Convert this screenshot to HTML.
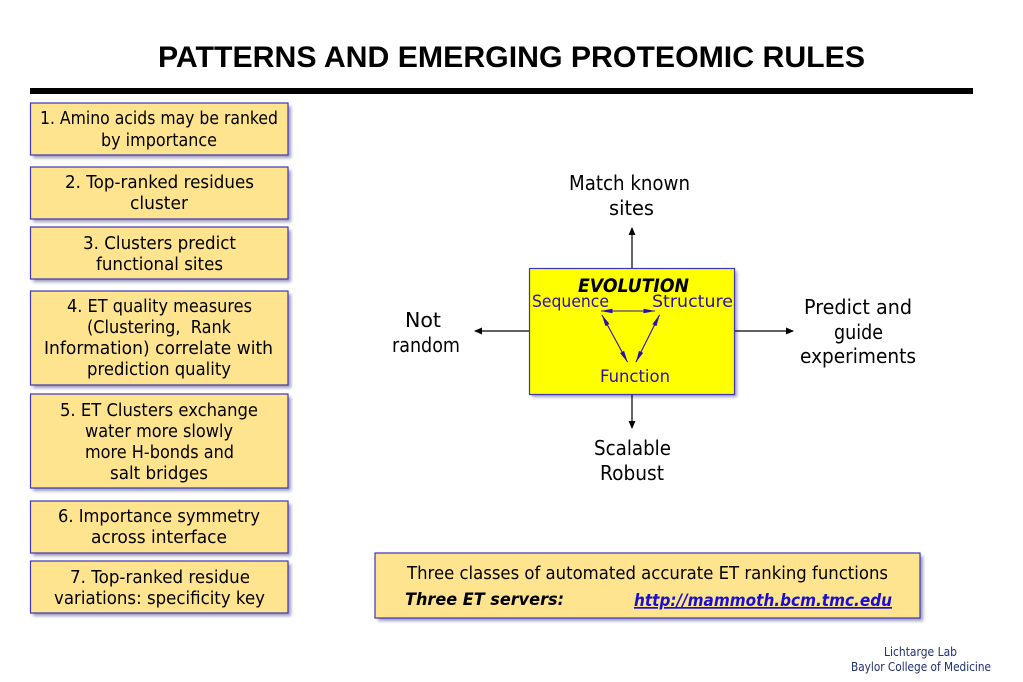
<!DOCTYPE html>
<html><head><meta charset="utf-8"><style>
html,body{margin:0;padding:0;background:#fff;width:1023px;height:682px;overflow:hidden}
svg{display:block}
text{font-family:"DejaVu Sans","Liberation Sans",sans-serif;fill:#000}
.t{font-size:18px}
.d{font-size:20px}
.b{font-size:17px;fill:#2a0fb0}
</style></head><body>
<svg width="1023" height="682" viewBox="0 0 1023 682" xmlns="http://www.w3.org/2000/svg">
<defs>
<filter id="s" x="-10%" y="-20%" width="120%" height="140%"><feGaussianBlur stdDeviation="1.5"/></filter>
<marker id="k" markerWidth="8" markerHeight="7" refX="7" refY="3.5" orient="auto-start-reverse" markerUnits="userSpaceOnUse"><path d="M0 0L8 3.5L0 7z" fill="#000"/></marker>
<marker id="v" markerWidth="12" markerHeight="5" refX="11.5" refY="2.5" orient="auto-start-reverse" markerUnits="userSpaceOnUse"><path d="M0 0.2L12 2.5L0 4.8z" fill="#2a0fb0"/></marker>
</defs>
<rect width="1023" height="682" fill="#fff"/>
<text x="158" y="67" textLength="707" lengthAdjust="spacingAndGlyphs" style="font:bold 30px 'Liberation Sans',sans-serif">PATTERNS AND EMERGING PROTEOMIC RULES</text>
<rect x="30" y="88" width="943" height="6" fill="#000"/>

<g fill="#7a7aa8" opacity=".75" filter="url(#s)">
<rect x="33" y="106" width="258" height="52"/><rect x="33" y="170" width="258" height="52"/><rect x="33" y="230" width="258" height="52"/><rect x="33" y="294" width="258" height="94"/><rect x="33" y="397" width="258" height="94"/><rect x="33" y="504" width="258" height="52"/><rect x="33" y="564" width="258" height="52"/><rect x="378" y="556" width="545" height="65"/><rect x="532" y="271" width="205" height="126"/>
</g>
<g fill="#ffe48f" stroke="#3f35b5" stroke-width="1.2">
<rect x="30.5" y="103" width="257.5" height="52"/><rect x="30.5" y="167" width="257.5" height="52"/><rect x="30.5" y="227" width="257.5" height="52"/><rect x="30.5" y="291" width="257.5" height="94"/><rect x="30.5" y="394" width="257.5" height="94"/><rect x="30.5" y="501" width="257.5" height="52"/><rect x="30.5" y="561" width="257.5" height="52"/><rect x="375" y="553" width="545" height="65"/>
</g>

<g class="t">
<text class="t" x="40" y="124" textLength="238" lengthAdjust="spacingAndGlyphs">1. Amino acids may be ranked</text>
<text class="t" x="101" y="146" textLength="116" lengthAdjust="spacingAndGlyphs">by importance</text>
<text class="t" x="65" y="188" textLength="189" lengthAdjust="spacingAndGlyphs">2. Top-ranked residues</text>
<text class="t" x="130" y="209" textLength="58" lengthAdjust="spacingAndGlyphs">cluster</text>
<text class="t" x="83" y="249" textLength="153" lengthAdjust="spacingAndGlyphs">3. Clusters predict</text>
<text class="t" x="96" y="270" textLength="127" lengthAdjust="spacingAndGlyphs">functional sites</text>
<text class="t" x="67" y="312" textLength="185" lengthAdjust="spacingAndGlyphs">4. ET quality measures</text>
<text class="t" x="87" y="333" textLength="144" lengthAdjust="spacingAndGlyphs" xml:space="preserve">(Clustering,  Rank</text>
<text class="t" x="44" y="354" textLength="229" lengthAdjust="spacingAndGlyphs">Information) correlate with</text>
<text class="t" x="87" y="375" textLength="144" lengthAdjust="spacingAndGlyphs">prediction quality</text>
<text class="t" x="60" y="416" textLength="198" lengthAdjust="spacingAndGlyphs">5. ET Clusters exchange</text>
<text class="t" x="85" y="437" textLength="148" lengthAdjust="spacingAndGlyphs">water more slowly</text>
<text class="t" x="85" y="458" textLength="149" lengthAdjust="spacingAndGlyphs">more H-bonds and</text>
<text class="t" x="110" y="479" textLength="98" lengthAdjust="spacingAndGlyphs">salt bridges</text>
<text class="t" x="58" y="522" textLength="202" lengthAdjust="spacingAndGlyphs">6. Importance symmetry</text>
<text class="t" x="91" y="543" textLength="136" lengthAdjust="spacingAndGlyphs">across interface</text>
<text class="t" x="70" y="583" textLength="180" lengthAdjust="spacingAndGlyphs">7. Top-ranked residue</text>
<text class="t" x="54" y="604" textLength="211" lengthAdjust="spacingAndGlyphs">variations: specificity key</text>
</g>

<g stroke="#000" stroke-width="1.2" fill="none" marker-end="url(#k)">
<line x1="632" y1="268" x2="632" y2="228"/>
<line x1="632" y1="394" x2="632" y2="428"/>
<line x1="529" y1="331" x2="475" y2="331"/>
<line x1="735" y1="331" x2="793" y2="331"/>
</g>
<rect x="529.5" y="268.5" width="205" height="126" fill="#ffff00" stroke="#3f35b5" stroke-width="1.2"/>

<text x="578" y="292" textLength="111" lengthAdjust="spacingAndGlyphs" style="font:italic bold 19px 'DejaVu Sans',sans-serif">EVOLUTION</text>
<text class="b" x="532" y="307" textLength="77" lengthAdjust="spacingAndGlyphs">Sequence</text>
<text class="b" x="652" y="307" textLength="81" lengthAdjust="spacingAndGlyphs">Structure</text>
<text class="b" x="600" y="382" textLength="70" lengthAdjust="spacingAndGlyphs">Function</text>
<g stroke="#2a0fb0" stroke-width="1.1" fill="none" marker-start="url(#v)" marker-end="url(#v)">
<line x1="601" y1="311" x2="655" y2="311"/>
<line x1="602" y1="315" x2="627.5" y2="362"/>
<line x1="659.5" y1="315" x2="636" y2="362"/>
</g>

<text class="d" x="569" y="190" textLength="121" lengthAdjust="spacingAndGlyphs">Match known</text>
<text class="d" x="609" y="215" textLength="45" lengthAdjust="spacingAndGlyphs">sites</text>
<text class="d" x="405" y="327" textLength="36" lengthAdjust="spacingAndGlyphs">Not</text>
<text class="d" x="392" y="352" textLength="68" lengthAdjust="spacingAndGlyphs">random</text>
<text class="d" x="804" y="314" textLength="108" lengthAdjust="spacingAndGlyphs">Predict and</text>
<text class="d" x="834" y="339" textLength="49" lengthAdjust="spacingAndGlyphs">guide</text>
<text class="d" x="800" y="363" textLength="116" lengthAdjust="spacingAndGlyphs">experiments</text>
<text class="d" x="594" y="455" textLength="77" lengthAdjust="spacingAndGlyphs">Scalable</text>
<text class="d" x="600" y="480" textLength="64" lengthAdjust="spacingAndGlyphs">Robust</text>

<text class="t" x="407" y="579" textLength="481" lengthAdjust="spacingAndGlyphs">Three classes of automated accurate ET ranking functions</text>
<text x="405" y="605" textLength="159" lengthAdjust="spacingAndGlyphs" style="font:italic bold 17px 'DejaVu Sans',sans-serif">Three ET servers:</text>
<text x="634" y="606" textLength="258" lengthAdjust="spacingAndGlyphs" style="font:italic bold 17px 'DejaVu Sans',sans-serif;fill:#1a0fd0;text-decoration:underline">http://mammoth.bcm.tmc.edu</text>

<text x="884" y="656" textLength="73" lengthAdjust="spacingAndGlyphs" style="font-size:12px;fill:#1f2f70">Lichtarge Lab</text>
<text x="851" y="671" textLength="140" lengthAdjust="spacingAndGlyphs" style="font-size:12px;fill:#1f2f70">Baylor College of Medicine</text>
</svg>
</body></html>
